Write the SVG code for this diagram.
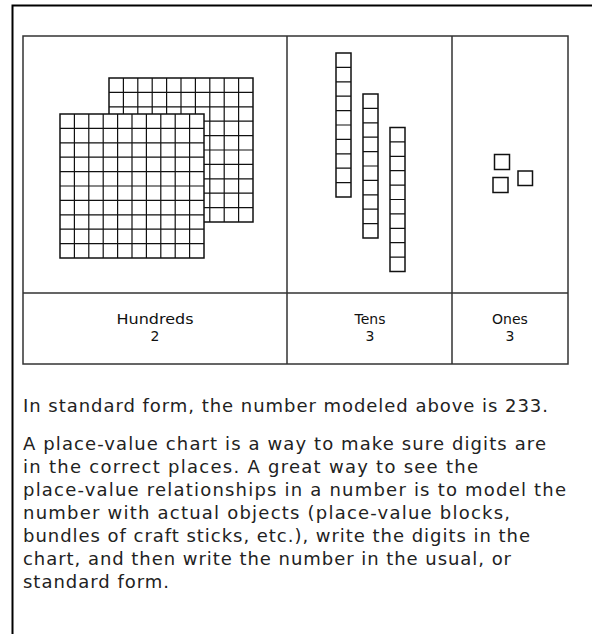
<svg xmlns="http://www.w3.org/2000/svg" width="592" height="634" viewBox="0 0 592 634">
<defs>
<style>
.frame{fill:none;stroke:#000;stroke-width:2}
.tbl{fill:none;stroke:#333;stroke-width:1.5}
.blk{fill:#fff;stroke:#111;stroke-width:1.5}
.gl{fill:none;stroke:#111;stroke-width:1.2}
.lbl{font-family:"DejaVu Sans","Liberation Sans",sans-serif;font-size:14px;fill:#111;text-anchor:middle}
.body{font-family:"DejaVu Sans","Liberation Sans",sans-serif;font-size:18px;fill:#222}
</style>
</defs>
<rect width="592" height="634" fill="#fff"/>
<path class="frame" d="M12.5,634 V5.5 H592"/>
<g id="table">
<rect class="tbl" x="23" y="36" width="545" height="328"/>
<path class="tbl" d="M287,36 V364 M452,36 V364 M23,293 H568"/>
</g>
<g id="hundreds">
<g id="flat-back">
<rect class="blk" x="109" y="78" width="144" height="144"/>
<path class="gl" d="M123.4,78V222M137.8,78V222M152.2,78V222M166.6,78V222M181,78V222M195.4,78V222M209.8,78V222M224.2,78V222M238.6,78V222M109,92.4H253M109,106.8H253M109,121.2H253M109,135.6H253M109,150H253M109,164.4H253M109,178.8H253M109,193.2H253M109,207.6H253"/>
</g>
<g id="flat-front">
<rect class="blk" x="60" y="114" width="144" height="144"/>
<path class="gl" d="M74.4,114V258M88.8,114V258M103.2,114V258M117.6,114V258M132,114V258M146.4,114V258M160.8,114V258M175.2,114V258M189.6,114V258M60,128.4H204M60,142.8H204M60,157.2H204M60,171.6H204M60,186H204M60,200.4H204M60,214.8H204M60,229.2H204M60,243.6H204"/>
</g>
<text class="lbl" x="155" y="324" textLength="77" lengthAdjust="spacingAndGlyphs">Hundreds</text>
<text class="lbl" x="155" y="341">2</text>
</g>
<g id="tens">
<g id="rod1">
<rect class="blk" x="336" y="53" width="15" height="144"/>
<path class="gl" d="M336,67.4H351M336,81.8H351M336,96.2H351M336,110.6H351M336,125H351M336,139.4H351M336,153.8H351M336,168.2H351M336,182.6H351"/>
</g>
<g id="rod2">
<rect class="blk" x="363" y="94" width="15" height="144"/>
<path class="gl" d="M363,108.4H378M363,122.8H378M363,137.2H378M363,151.6H378M363,166H378M363,180.4H378M363,194.8H378M363,209.2H378M363,223.6H378"/>
</g>
<g id="rod3">
<rect class="blk" x="390" y="127.5" width="15" height="144"/>
<path class="gl" d="M390,141.9H405M390,156.3H405M390,170.7H405M390,185.1H405M390,199.5H405M390,213.9H405M390,228.3H405M390,242.7H405M390,257.1H405"/>
</g>
<text class="lbl" x="370" y="324">Tens</text>
<text class="lbl" x="370" y="341">3</text>
</g>
<g id="ones">
<rect class="blk" x="494.5" y="154.5" width="15" height="15"/>
<rect class="blk" x="518" y="171" width="14.5" height="14.5"/>
<rect class="blk" x="493" y="177.5" width="15" height="15"/>
<text class="lbl" x="510" y="324">Ones</text>
<text class="lbl" x="510" y="341">3</text>
</g>
<g id="caption">
<text class="body" x="23" y="412" textLength="525" lengthAdjust="spacing">In standard form, the number modeled above is 233.</text>
<text class="body" x="23" y="450" textLength="523" lengthAdjust="spacing">A place-value chart is a way to make sure digits are</text>
<text class="body" x="23" y="473" textLength="455" lengthAdjust="spacing">in the correct places. A great way to see the</text>
<text class="body" x="23" y="496" textLength="543" lengthAdjust="spacing">place-value relationships in a number is to model the</text>
<text class="body" x="23" y="519" textLength="487" lengthAdjust="spacing">number with actual objects (place-value blocks,</text>
<text class="body" x="23" y="542" textLength="507" lengthAdjust="spacing">bundles of craft sticks, etc.), write the digits in the</text>
<text class="body" x="23" y="565" textLength="488" lengthAdjust="spacing">chart, and then write the number in the usual, or</text>
<text class="body" x="23" y="588" textLength="146" lengthAdjust="spacing">standard form.</text>
</g>
</svg>
